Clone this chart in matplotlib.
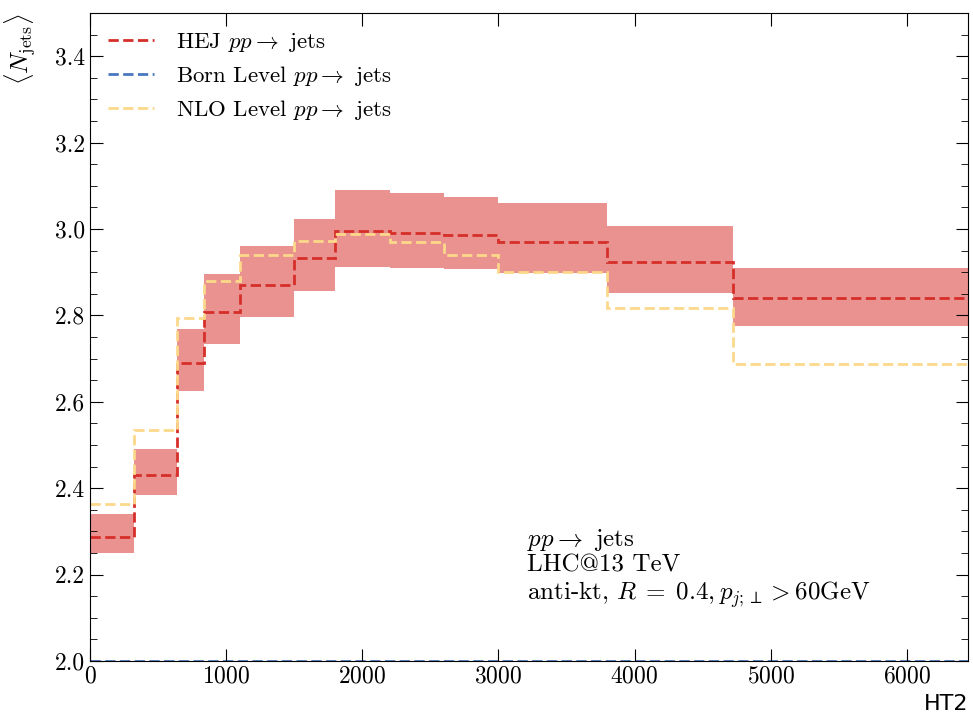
import numpy as np
import matplotlib.pyplot as plt

plt.rcParams['font.family'] = ['cmr10', 'DejaVu Serif']
plt.rcParams['mathtext.fontset'] = 'cm'
plt.rcParams['axes.formatter.use_mathtext'] = True
plt.rcParams['axes.unicode_minus'] = False

edges = [0, 320, 640, 840, 1100, 1500, 1800, 2200, 2600, 3000, 3800, 4720, 6500]
hej = [2.288, 2.431, 2.690, 2.809, 2.870, 2.932, 2.995, 2.991, 2.985, 2.971, 2.924, 2.840]
hej_lo = [2.251, 2.384, 2.625, 2.734, 2.796, 2.856, 2.913, 2.910, 2.908, 2.897, 2.851, 2.775]
hej_hi = [2.340, 2.490, 2.769, 2.896, 2.961, 3.023, 3.090, 3.084, 3.073, 3.060, 3.007, 2.910]
born = [2.0] * 12
nlo = [2.363, 2.535, 2.795, 2.880, 2.940, 2.972, 2.988, 2.969, 2.940, 2.900, 2.817, 2.688]

fig = plt.figure(figsize=(9.73, 7.21), dpi=100)
ax = fig.add_axes([0.0925, 0.0832, 0.9025, 0.8988])

ax.stairs(hej_hi, edges, baseline=hej_lo, fill=True, color='#e9928f', lw=0)
ax.stairs(hej, edges, baseline=None, color='#d62f2a', ls='--', lw=2, label=r'HEJ $pp \to$ jets')
ax.stairs(born, edges, baseline=None, color='#4a78c0', ls='--', lw=2, label=r'Born Level $pp \to$ jets')
ax.stairs(nlo, edges, baseline=None, color='#fcd88a', ls='--', lw=2, label=r'NLO Level $pp \to$ jets')

ax.set_xlim(0, 6450)
ax.set_ylim(2.0, 3.5)
ax.set_xticks([0, 1000, 2000, 3000, 4000, 5000, 6000])
ax.set_yticks(np.arange(2.0, 3.41, 0.2))
ax.set_yticks(np.arange(2.0, 3.5, 0.05), minor=True)
ax.yaxis.set_major_formatter(plt.FormatStrFormatter('%.1f'))
ax.tick_params(which='both', direction='in', top=True, right=True, labelsize=17)
ax.tick_params(which='major', length=9)
ax.tick_params(which='minor', length=5)

ax.set_xlabel('HT2', loc='right', fontfamily='DejaVu Sans', fontsize=16)
ax.set_ylabel(r'$\langle N_{\rm jets}\rangle$', loc='top', fontsize=18, labelpad=12)

ax.legend(loc='upper left', frameon=False, fontsize=16.5, handlelength=2,
          labelspacing=0.42, borderaxespad=0.4, handletextpad=0.95)
ax.text(0.498, 0.143, "$pp \\to$ jets\nLHC@13 TeV\nanti-kt, $R\\;=\\;0.4, p_{j;\\perp} > 60$GeV",
        transform=ax.transAxes, fontsize=18, va='center', ha='left', linespacing=1.12)

fig.savefig('out.png', dpi=100)
